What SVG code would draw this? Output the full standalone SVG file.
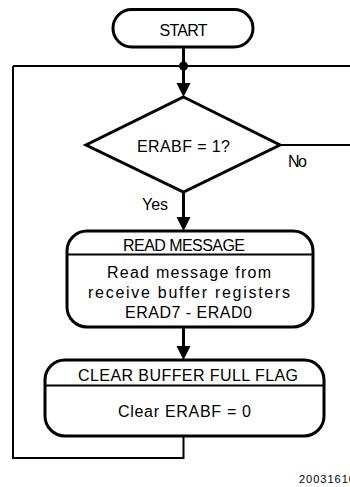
<svg xmlns="http://www.w3.org/2000/svg" width="350" height="487" viewBox="0 0 350 487">
<style>
.box{fill:#fff;stroke:#000;stroke-width:3}
.div{stroke:#000;stroke-width:2}
.t{font-family:"Liberation Sans",Arial,sans-serif;font-size:16px;fill:#000}
.m{text-anchor:middle}
.c{fill:none;stroke:#000;stroke-width:2}
.cv{fill:none;stroke:#000;stroke-width:3}
.ah{fill:#000}
.num{font-family:"Liberation Sans",Arial,sans-serif;font-size:11px;letter-spacing:1px;fill:#000}
</style>
<rect width="350" height="487" fill="#fff"/>
<g id="connectors">
<path class="cv" d="M183.5,47 V66"/>
<path class="c" d="M13,66 H350"/>
<path class="c" d="M13,66 V458 H183.5 V436"/>
<circle cx="183.5" cy="66" r="4.5" fill="#000"/>
<path class="cv" d="M183.5,66 V86"/>
<polygon class="ah" points="176.5,83 190.5,83 183.5,97"/>
<path class="c" d="M280,145 H350"/>
<path class="cv" d="M183.5,192 V220"/>
<polygon class="ah" points="176.5,217 190.5,217 183.5,231"/>
<path class="cv" d="M183.5,327 V349"/>
<polygon class="ah" points="176.5,346 190.5,346 183.5,360"/>
</g>
<g id="start">
<rect class="box" x="113" y="9.5" width="140" height="37.5" rx="18.75"/>
<text class="t m" x="183.5" y="36" textLength="48">START</text>
</g>
<g id="decision">
<polygon class="box" points="183.5,97 280,145 183.5,192 86,145"/>
<text class="t m" x="183.5" y="152" textLength="93">ERABF = 1?</text>
<text class="t" x="288" y="167" textLength="19">No</text>
<text class="t" x="142" y="210" textLength="26">Yes</text>
</g>
<g id="read">
<rect class="box" x="67" y="231" width="246" height="96" rx="20"/>
<line class="div" x1="67" y1="254.5" x2="313" y2="254.5"/>
<text class="t m" x="184" y="251" textLength="122">READ MESSAGE</text>
<text class="t m" x="189" y="278" textLength="164">Read message from</text>
<text class="t m" x="189" y="298" textLength="202">receive buffer registers</text>
<text class="t m" x="188.5" y="318" textLength="127">ERAD7 - ERAD0</text>
</g>
<g id="clear">
<rect class="box" x="45" y="360" width="279" height="76" rx="20"/>
<line class="div" x1="45" y1="385.5" x2="324" y2="385.5"/>
<text class="t m" x="188" y="381" textLength="220">CLEAR BUFFER FULL FLAG</text>
<text class="t m" x="184.5" y="417" textLength="133">Clear ERABF = 0</text>
</g>
<text class="num" x="299" y="483">20031610</text>
</svg>
